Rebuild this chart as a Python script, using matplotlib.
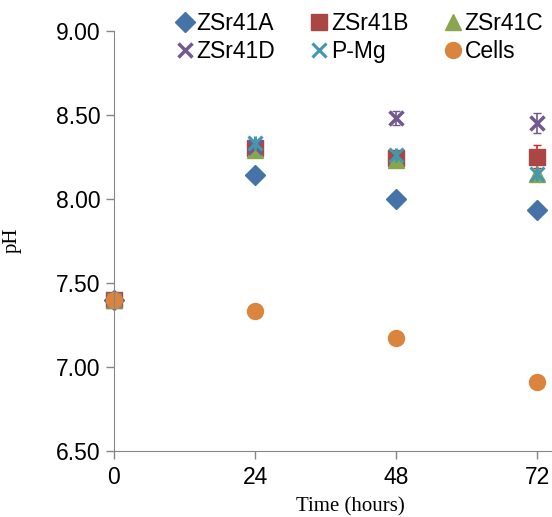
import matplotlib.pyplot as plt
from matplotlib.lines import Line2D
import numpy as np

# data
hours = [0, 24, 48, 72]
series = ["ZSr41A", "ZSr41B", "ZSr41C", "ZSr41D", "P-Mg", "Cells"]
zsr41a = [7.40, 8.14, 8.00, 7.93]
zsr41b = [7.40, 8.30, 8.24, 8.25]
zsr41c = [7.40, 8.29, 8.23, 8.15]
zsr41d = [7.40, 8.31, 8.48, 8.45]
pmg = [7.40, 8.33, 8.26, 8.15]
cells = [7.40, 7.33, 7.17, 6.91]
err_b = [0.0, 0.02, 0.02, 0.07]
err_d = [0.0, 0.02, 0.04, 0.06]
yticks = [6.50, 7.00, 7.50, 8.00, 8.50, 9.00]

plt.rcParams['font.family'] = ['Liberation Sans', 'DejaVu Sans']

fig = plt.figure(figsize=(5.52, 5.17), dpi=100)
ax = fig.add_axes([114/552, 1-450.7/517, 1-114/552, (450.7-30.7)/517])

ax.errorbar(hours, zsr41b, yerr=err_b, fmt='none', ecolor='#E0201B', capsize=3, elinewidth=1.2)
ax.errorbar(hours, zsr41d, yerr=err_d, fmt='none', ecolor='#71588F', capsize=3, elinewidth=1.2)

sty = [
    dict(marker='D', color='#4572A7', ms=10),
    dict(marker='s', color='#AA4643', ms=11),
    dict(marker='^', color='#89A54E', ms=11),
    dict(marker='x', color='#71588F', ms=9.5, mew=2.5),
    dict(marker='x', color='#4198AF', ms=9.5, mew=2.2),
    dict(marker='o', color='#DB843D', ms=11.5),
]
vals = [zsr41a, zsr41b, zsr41c, zsr41d, pmg, cells]
for v, s in zip(vals, sty):
    ax.plot(hours, v, ls='none', clip_on=False, **s)
    if s['color'] == '#4198AF':
        ax.plot(hours, v, ls='none', marker='|', color=s['color'], ms=10.5, mew=2.2, clip_on=False)

ax.set_xlim(0, 74.55)
ax.set_ylim(6.5, 9.0)
ax.set_xticks([0, 24, 48, 72])
ax.set_yticks(yticks)
ax.set_yticklabels(['%.2f' % v for v in yticks])
ax.tick_params(labelsize=16.5, length=6, color='#868686', width=1)
ax.tick_params(axis='x', pad=5)
ax.spines['top'].set_visible(False)
ax.spines['right'].set_visible(False)
for s in ['left', 'bottom']:
    ax.spines[s].set_color('#868686')

fig.text(350/552, 1-507/517, 'Time (hours)', family='Liberation Serif', fontsize=15,
         ha='center', va='center')
fig.text(12/552, 1-240/517, 'pH', family='Liberation Serif', fontsize=15,
         ha='center', va='center', rotation=90)

handles = [Line2D([], [], ls='none', **s) for s in sty]
# matplotlib fills legend columns first, reorder so rows read A B C / D P-Mg Cells
order = [0, 3, 1, 4, 2, 5]
fig.legend([handles[i] for i in order], [series[i] for i in order], ncol=3,
           loc='upper left', bbox_to_anchor=(0.297, 0.995), frameon=False,
           fontsize=16.5, handletextpad=0.0, columnspacing=1.45, handlelength=1.0,
           labelspacing=0.25, borderaxespad=0)

fig.savefig('out.png', dpi=100)
